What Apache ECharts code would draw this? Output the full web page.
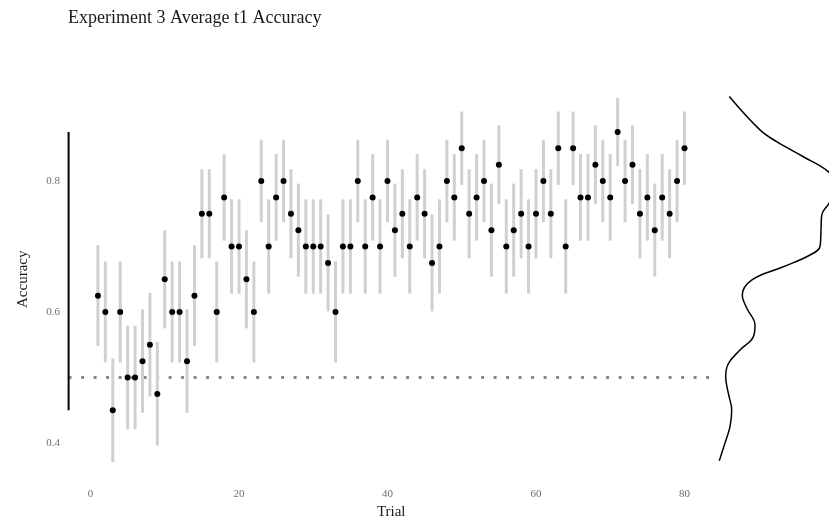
<!DOCTYPE html>
<html>
<head>
<meta charset="utf-8">
<script src="https://cdn.jsdelivr.net/npm/echarts@6/dist/echarts.min.js"></script>
<style>
  html, body { margin: 0; padding: 0; background: #ffffff; }
  #chart { width: 829px; height: 521px; }
</style>
</head>
<body>
<div id="chart"></div>
<script>
// Trial numbers 1..80
const trials = [
  1, 2, 3, 4, 5, 6, 7, 8, 9, 10, 11, 12, 13, 14, 15, 16, 17, 18, 19, 20,
  21, 22, 23, 24, 25, 26, 27, 28, 29, 30, 31, 32, 33, 34, 35, 36, 37, 38, 39, 40,
  41, 42, 43, 44, 45, 46, 47, 48, 49, 50, 51, 52, 53, 54, 55, 56, 57, 58, 59, 60,
  61, 62, 63, 64, 65, 66, 67, 68, 69, 70, 71, 72, 73, 74, 75, 76, 77, 78, 79, 80
];

// Mean accuracy per trial
const accuracy = [
  0.625, 0.6, 0.45, 0.6, 0.5, 0.5, 0.525, 0.55, 0.475, 0.65,
  0.6, 0.6, 0.525, 0.625, 0.75, 0.75, 0.6, 0.775, 0.7, 0.7,
  0.65, 0.6, 0.8, 0.7, 0.775, 0.8, 0.75, 0.725, 0.7, 0.7,
  0.7, 0.675, 0.6, 0.7, 0.7, 0.8, 0.7, 0.775, 0.7, 0.8,
  0.725, 0.75, 0.7, 0.775, 0.75, 0.675, 0.7, 0.8, 0.775, 0.85,
  0.75, 0.775, 0.8, 0.725, 0.825, 0.7, 0.725, 0.75, 0.7, 0.75,
  0.8, 0.75, 0.85, 0.7, 0.85, 0.775, 0.775, 0.825, 0.8, 0.775,
  0.875, 0.8, 0.825, 0.75, 0.775, 0.725, 0.775, 0.75, 0.8, 0.85
];

// Standard error of each trial's mean (half-length of the grey bars)
const stdErr = [
  0.077, 0.077, 0.079, 0.077, 0.079, 0.079, 0.079, 0.079, 0.079, 0.075,
  0.077, 0.077, 0.079, 0.077, 0.068, 0.068, 0.077, 0.066, 0.072, 0.072,
  0.075, 0.077, 0.063, 0.072, 0.066, 0.063, 0.068, 0.071, 0.072, 0.072,
  0.072, 0.074, 0.077, 0.072, 0.072, 0.063, 0.072, 0.066, 0.072, 0.063,
  0.071, 0.068, 0.072, 0.066, 0.068, 0.074, 0.072, 0.063, 0.066, 0.056,
  0.068, 0.066, 0.063, 0.071, 0.060, 0.072, 0.071, 0.068, 0.072, 0.068,
  0.063, 0.068, 0.056, 0.072, 0.056, 0.066, 0.066, 0.060, 0.063, 0.066,
  0.052, 0.063, 0.060, 0.068, 0.066, 0.071, 0.066, 0.068, 0.063, 0.056
];

// Marginal density of accuracy (accuracy level, density)
const densityAcc = [
  0.929, 0.878, 0.860, 0.837, 0.814, 0.791, 0.766, 0.748, 0.725, 0.700,
  0.687, 0.669, 0.649, 0.626, 0.606, 0.580, 0.562, 0.542, 0.521, 0.501,
  0.476, 0.450, 0.425, 0.400, 0.373
];
const densityVal = [
  0.143, 0.45, 0.617, 0.883, 1.135, 1.23, 1.14, 1.067, 1.06, 1.05,
  0.95, 0.683, 0.37, 0.273, 0.317, 0.40, 0.383, 0.25, 0.133, 0.107,
  0.133, 0.167, 0.15, 0.10, 0.043
];

// Tick labels
const xTicks = [0, 20, 40, 60, 80];
const yTicks = [0.4, 0.6, 0.8];
const chanceLevel = 0.5;

const FONT = "'Liberation Serif', 'DejaVu Serif', serif";
const xMin = -2.95, xMax = 83.95;
const yMin = 0.34, yMax = 0.96;

const accMin = Math.min(...accuracy);
const accMax = Math.max(...accuracy);

const errorData = trials.map((t, i) => [t, accuracy[i] - stdErr[i], accuracy[i] + stdErr[i]]);
const pointData = trials.map((t, i) => [t, accuracy[i]]);
const densityData = densityAcc.map((a, i) => [densityVal[i], a]);

const chart = echarts.init(document.getElementById('chart'), null, { renderer: 'canvas' });

chart.setOption({
  animation: false,
  backgroundColor: '#ffffff',
  title: {
    text: 'Experiment 3 Average t1 Accuracy',
    left: 68,
    top: 9,
    padding: 0,
    textStyle: { fontFamily: FONT, fontSize: 18, fontWeight: 'normal', color: '#1a1a1a' }
  },
  grid: [
    { left: 68.6, top: 76.2, width: 645.2, height: 406.1, outerBoundsMode: 'none' },
    { left: 715, top: 76.2, width: 130, height: 406.1, outerBoundsMode: 'none' }
  ],
  xAxis: [
    {
      gridIndex: 0,
      type: 'value',
      min: xMin,
      max: xMax,
      name: 'Trial',
      nameLocation: 'middle',
      nameGap: 22,
      nameTextStyle: { fontFamily: FONT, fontSize: 15, color: '#1a1a1a' },
      axisLine: { show: false },
      axisTick: { show: false },
      splitLine: { show: false },
      axisLabel: {
        customValues: xTicks,
        margin: 6,
        fontFamily: FONT,
        fontSize: 11,
        color: '#6e6e6e'
      }
    },
    {
      gridIndex: 1,
      type: 'value',
      min: 0,
      max: 1.3,
      show: false
    }
  ],
  yAxis: [
    {
      gridIndex: 0,
      type: 'value',
      min: yMin,
      max: yMax,
      name: 'Accuracy',
      nameLocation: 'middle',
      nameGap: 38,
      nameRotate: 90,
      nameTextStyle: { fontFamily: FONT, fontSize: 15, color: '#1a1a1a' },
      axisLine: { show: false },
      axisTick: { show: false },
      splitLine: { show: false },
      axisLabel: {
        customValues: yTicks,
        margin: 8.6,
        fontFamily: FONT,
        fontSize: 11,
        color: '#6e6e6e',
        formatter: v => v.toFixed(1)
      }
    },
    {
      gridIndex: 1,
      type: 'value',
      min: yMin,
      max: yMax,
      show: false
    }
  ],
  series: [
    {
      // chance level
      type: 'line',
      xAxisIndex: 0,
      yAxisIndex: 0,
      data: [[xMin, chanceLevel], [xMax, chanceLevel]],
      symbol: 'none',
      lineStyle: { color: '#888888', width: 3, type: [3, 9.5], cap: 'butt' },
      silent: true,
      z: 1
    },
    {
      // range-frame y axis spanning observed means
      type: 'line',
      xAxisIndex: 0,
      yAxisIndex: 0,
      data: [[xMin, accMin], [xMin, accMax]],
      symbol: 'none',
      lineStyle: { color: '#000000', width: 2 },
      silent: true,
      z: 2
    },
    {
      // standard error bars
      type: 'custom',
      xAxisIndex: 0,
      yAxisIndex: 0,
      data: errorData,
      encode: { x: 0, y: [1, 2] },
      renderItem: (params, api) => {
        const t = api.value(0);
        const p1 = api.coord([t, api.value(1)]);
        const p2 = api.coord([t, api.value(2)]);
        return {
          type: 'line',
          shape: { x1: p1[0], y1: p1[1], x2: p2[0], y2: p2[1] },
          style: { stroke: '#d0d0d0', lineWidth: 3, lineCap: 'butt' }
        };
      },
      z: 3
    },
    {
      type: 'scatter',
      xAxisIndex: 0,
      yAxisIndex: 0,
      data: pointData,
      symbol: 'circle',
      symbolSize: 6,
      itemStyle: { color: '#000000', opacity: 1 },
      z: 4
    },
    {
      // marginal density
      type: 'line',
      xAxisIndex: 1,
      yAxisIndex: 1,
      data: densityData,
      symbol: 'none',
      smooth: 0.4,
      lineStyle: { color: '#000000', width: 1.5 },
      silent: true,
      z: 2
    }
  ]
});
</script>
</body>
</html>
